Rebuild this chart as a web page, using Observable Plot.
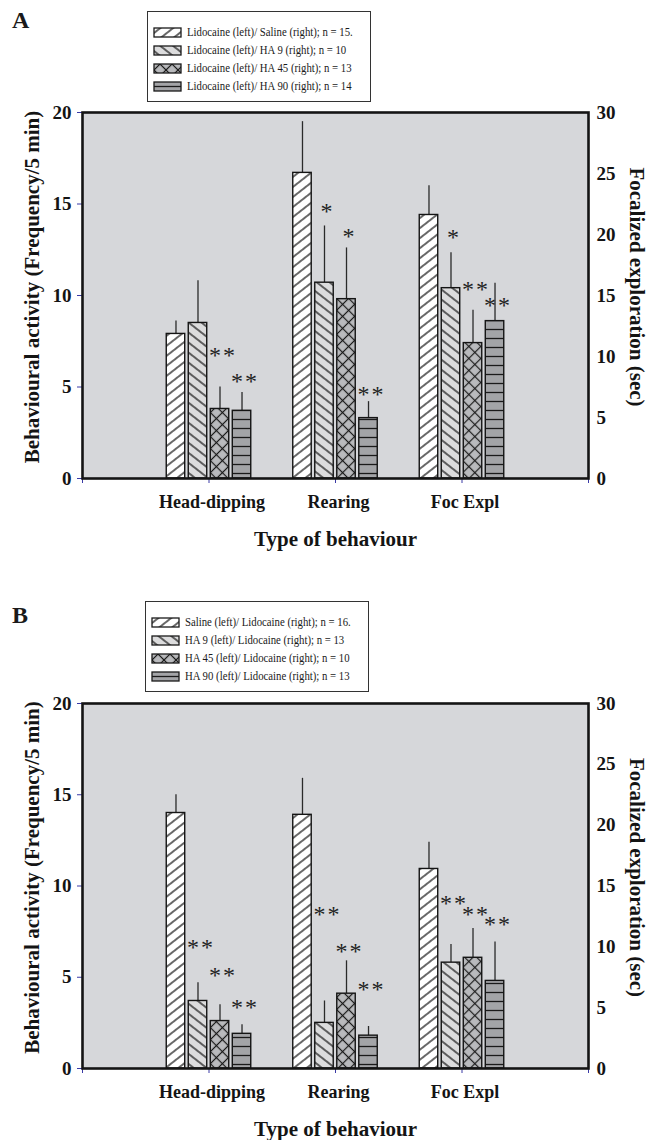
<!DOCTYPE html>
<html><head><meta charset="utf-8">
<script src="https://cdn.jsdelivr.net/npm/d3@7"></script>
<script src="https://cdn.jsdelivr.net/npm/@observablehq/plot@0.6"></script>
<style>
body{margin:0;background:#fff;width:659px;height:1140px;overflow:hidden;position:relative;font-family:"Liberation Serif","Times New Roman",serif;color:#1a1a1a}
.panel-label{position:absolute;left:12px;font-weight:bold;font-size:24px;line-height:24px;z-index:3}
.legend{position:absolute;border:1.5px solid #333;background:#fff;box-sizing:border-box;z-index:2;width:224px;height:91px}
.legend .row{position:absolute;left:6px;height:18px;display:flex;align-items:center;white-space:nowrap}
.legend svg{display:block;overflow:visible}
.legend span{font-size:12.5px;margin-left:6px;display:inline-block;transform:scaleX(0.86);transform-origin:left center}
.chart{position:absolute;left:0;z-index:1}
</style></head><body>
<svg width="0" height="0" style="position:absolute">
<defs>
<pattern id="pat0" patternUnits="userSpaceOnUse" width="7.9" height="10" patternTransform="rotate(52)">
  <rect x="-1" y="-1" width="10" height="12" fill="#ffffff"/>
  <line x1="3.95" y1="-1" x2="3.95" y2="11" stroke="#1a1a1a" stroke-width="1.3"/>
</pattern>
<pattern id="pat1" patternUnits="userSpaceOnUse" width="7.9" height="10" patternTransform="rotate(-52)">
  <rect x="-1" y="-1" width="10" height="12" fill="#dcdcdd"/>
  <line x1="3.95" y1="-1" x2="3.95" y2="11" stroke="#1a1a1a" stroke-width="1.3"/>
</pattern>
<pattern id="pat2" patternUnits="userSpaceOnUse" width="8.5" height="8.5" patternTransform="rotate(45)">
  <rect x="-1" y="-1" width="11" height="11" fill="#b9babd"/>
  <line x1="4.25" y1="-1" x2="4.25" y2="9.5" stroke="#1a1a1a" stroke-width="1.2"/>
  <line x1="-1" y1="4.25" x2="9.5" y2="4.25" stroke="#1a1a1a" stroke-width="1.2"/>
</pattern>
<pattern id="pat3" patternUnits="userSpaceOnUse" width="10" height="9">
  <rect x="-1" y="-1" width="12" height="11" fill="#a3a4a7"/>
  <line x1="-1" y1="4.5" x2="11" y2="4.5" stroke="#1a1a1a" stroke-width="1.3"/>
</pattern>
</defs>
</svg>
<div class="panel-label" style="top:8px">A</div>
<div class="panel-label" style="top:603px">B</div>
<div id="legendA" class="legend" style="left:147px;top:11px"></div>
<div id="legendB" class="legend" style="left:145px;top:601px"></div>
<div id="chartA" class="chart" style="top:100px"></div>
<div id="chartB" class="chart" style="top:691px"></div>
<script>
// ---- data ----
const groups = ["Head-dipping", "Rearing", "Foc Expl"];
const xTitle = "Type of behaviour";
const leftTitle = "Behavioural activity (Frequency/5 min)";
const rightTitle = "Focalized exploration (sec)";
const leftTicks = [0, 5, 10, 15, 20];
const rightTicks = [0, 5, 10, 15, 20, 25, 30];

const legendA = [
  "Lidocaine (left)/ Saline (right); n = 15.",
  "Lidocaine (left)/ HA 9 (right); n = 10",
  "Lidocaine (left)/ HA 45 (right); n = 13",
  "Lidocaine (left)/ HA 90 (right); n = 14"
];
const legendB = [
  "Saline (left)/ Lidocaine (right); n = 16.",
  "HA 9 (left)/ Lidocaine (right); n = 13",
  "HA 45 (left)/ Lidocaine (right); n = 10",
  "HA 90 (left)/ Lidocaine (right); n = 13"
];

// Panel A (Head-dipping, Rearing: frequency/5 min; Foc Expl: sec)
const aHeadDipping = [7.9, 8.5, 3.8, 3.7];
const aHeadDippingSem = [0.7, 2.3, 1.2, 1.0];
const aRearing = [16.7, 10.7, 9.8, 3.3];
const aRearingSem = [2.8, 3.1, 2.8, 0.9];
const aFocExpl = [21.6, 15.6, 11.1, 12.9];
const aFocExplSem = [2.4, 2.9, 2.7, 3.1];
const aSignif = [["", "", "**", "**"], ["", "*", "*", "**"], ["", "*", "**", "**"]];
const aSignifAt = [[0, 0, 7.0, 5.6], [0, 14.9, 13.5, 4.9], [0, 20.2, 15.9, 14.6]];

// Panel B
const bHeadDipping = [14.0, 3.7, 2.6, 1.9];
const bHeadDippingSem = [1.0, 1.0, 0.9, 0.5];
const bRearing = [13.9, 2.5, 4.1, 1.8];
const bRearingSem = [2.0, 1.2, 1.8, 0.5];
const bFocExpl = [16.4, 8.7, 9.1, 7.2];
const bFocExplSem = [2.2, 1.5, 2.4, 3.2];
const bSignif = [["", "**", "**", "**"], ["", "**", "**", "**"], ["", "**", "**", "**"]];
const bSignifAt = [[0, 6.9, 5.4, 3.65], [0, 8.7, 6.7, 4.6], [0, 14.0, 13.1, 12.3]];

// Foc Expl is read on the right axis (0–30 sec) which spans the same height as 0–20
const toLeft = [1, 1, 20 / 30];

const STEP = 0.174, HALF = 0.073;
function buildRows(means, sems, signif, signifAt) {
  const rows = [];
  means.forEach((arr, g) => arr.forEach((v, s) => {
    const xc = g + 1 + (s - 1.5) * STEP;
    rows.push({
      g, s, xc, x1: xc - HALF, x2: xc + HALF,
      y: v * toLeft[g], yTop: (v + sems[g][s]) * toLeft[g],
      star: signif[g][s], starY: signifAt[g][s] * toLeft[g]
    });
  }));
  return rows;
}

const blue = "#3a3aa6";
const ink = "#141414";
function panel(rows, height, marginBottom) {
  return Plot.plot({
    width: 659, height,
    marginTop: 12, marginBottom, marginLeft: 82, marginRight: 71,
    x: {domain: [0, 4]},
    y: {domain: [0, 20]},
    style: {fontFamily: "'Liberation Serif', 'Times New Roman', serif", background: "transparent", color: ink, overflow: "visible"},
    marks: [
      Plot.frame({fill: "#d6d7da", stroke: null}),
      Plot.ruleX(rows, {x: "xc", y1: "y", y2: "yTop", stroke: "#2a2a2a", strokeWidth: 1.3}),
      ...[0, 1, 2, 3].map(s => Plot.rect(rows.filter(d => d.s === s), {
        x1: "x1", x2: "x2", y1: 0, y2: "y", fill: `url(#pat${s})`, stroke: ink, strokeWidth: 1.4
      })),
      Plot.text(rows.filter(d => d.star), {
        x: "xc", y: "starY", text: d => d.star.split("").join("\u200A"),
        fontSize: 24, fill: "#222", dx: 2, dy: 5, lineAnchor: "middle", textAnchor: "middle"
      }),
      Plot.axisY(leftTicks, {anchor: "left", tickSize: 5, tickPadding: 6, stroke: blue, fill: ink, fontSize: 19, fontWeight: "bold", label: null}),
      Plot.axisY(rightTicks.map(v => v * 20 / 30), {anchor: "right", tickSize: 0, tickPadding: 8, tickFormat: d => Math.round(d * 1.5), fill: ink, fontSize: 19, fontWeight: "bold", label: null}),
      Plot.axisX([0, 1, 2, 3, 4], {anchor: "bottom", tickSize: 5, stroke: blue, tickFormat: () => "", label: null}),
      Plot.text(groups, {x: (d, i) => i + 1, text: d => d, frameAnchor: "bottom", dy: 24, dx: 3, lineAnchor: "middle", textAnchor: "middle", fontSize: 18, fontWeight: "bold", fill: ink}),
      Plot.text([xTitle], {text: d => d, frameAnchor: "bottom", dy: 61, lineAnchor: "middle", textAnchor: "middle", fontSize: 21, fontWeight: "bold", fill: ink}),
      Plot.text([leftTitle], {text: d => d, frameAnchor: "left", rotate: -90, dx: -50.5, dy: -8.5, lineAnchor: "middle", textAnchor: "middle", fontSize: 21, fontWeight: "bold", fill: ink}),
      Plot.text([rightTitle], {text: d => d, frameAnchor: "right", rotate: 90, dx: 48, dy: -8.5, lineAnchor: "middle", textAnchor: "middle", fontSize: 21, fontWeight: "bold", fill: ink}),
      Plot.frame({stroke: ink, strokeWidth: 2.6})
    ]
  });
}

function legend(el, labels) {
  labels.forEach((t, i) => {
    const row = document.createElement("div");
    row.className = "row";
    row.style.top = (11 + i * 18.3) + "px";
    row.innerHTML = `<svg width="27" height="9"><rect x="0" y="0" width="27" height="9" fill="url(#pat${i})" stroke="#1a1a1a" stroke-width="1.3"/></svg><span></span>`;
    row.querySelector("span").textContent = t;
    el.appendChild(row);
  });
}

legend(document.getElementById("legendA"), legendA);
legend(document.getElementById("legendB"), legendB);

document.getElementById("chartA").appendChild(
  panel(buildRows([aHeadDipping, aRearing, aFocExpl], [aHeadDippingSem, aRearingSem, aFocExplSem], aSignif, aSignifAt), 458, 80));
document.getElementById("chartB").appendChild(
  panel(buildRows([bHeadDipping, bRearing, bFocExpl], [bHeadDippingSem, bRearingSem, bFocExplSem], bSignif, bSignifAt), 449, 72));
</script>
</body></html>
